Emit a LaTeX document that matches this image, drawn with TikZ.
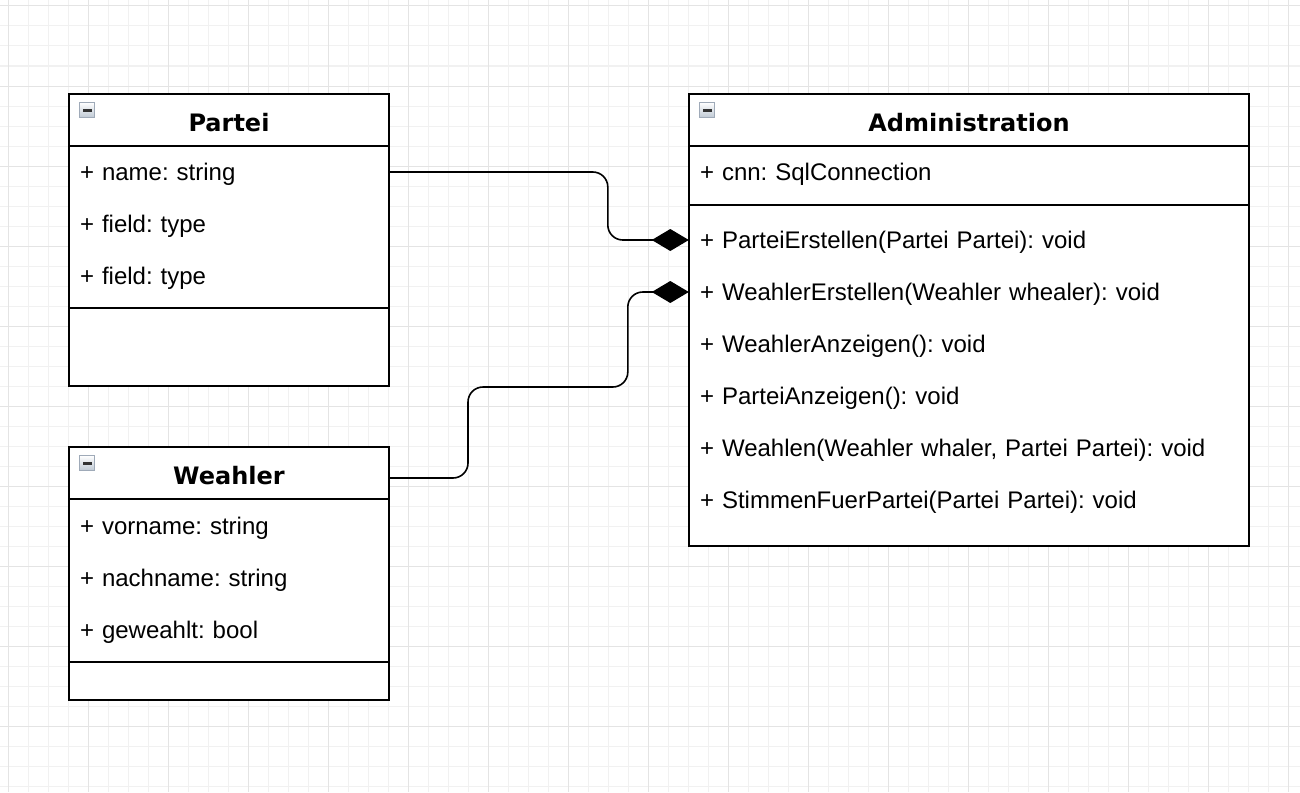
\documentclass[tikz,border=0pt]{standalone}
\usepackage{fontspec}
\setmainfont{Liberation Sans}
\newfontfamily\hdrfont{DejaVu Sans}
\usepackage{tikz}
\usetikzlibrary{arrows.meta,positioning}
\frenchspacing
\definecolor{gridminor}{HTML}{F1F1F1}
\definecolor{gridmajor}{HTML}{E4E4E4}
\definecolor{btnedge}{HTML}{9FAAB8}
\definecolor{btnfill}{HTML}{BFC9D4}
\tikzset{
  minorline/.style={draw=gridminor,line width=1pt},
  majorline/.style={draw=gridmajor,line width=1pt},
  classhead/.style={rectangle,draw=black,line width=1.6pt,outer sep=0pt,fill=white,
                    minimum height=52pt,text height=23pt,text depth=0pt,
                    font=\hdrfont\bfseries\fontsize{24}{28}\selectfont},
  compart/.style={rectangle,draw=black,line width=1.6pt,outer sep=0pt,fill=white,inner sep=0pt},
  member/.style={rectangle,inner xsep=11pt,inner ysep=0pt,align=left,
                 text height=19pt,text depth=3pt,font=\fontsize{24}{28}\selectfont},
  minbtn/.style={rectangle,minimum size=15pt,inner sep=0pt,draw=btnedge,line width=0.9pt,
                 top color=white,bottom color=btnfill,
                 path picture={\fill[black!80] ([xshift=3pt,yshift=-1.5pt]path picture bounding box.west)
                   rectangle ([xshift=-3pt,yshift=1.5pt]path picture bounding box.east);}},
  comp/.style={-{Diamond[length=37pt,width=22pt]},draw=black,line width=1.6pt,rounded corners=15pt},
}
\begin{document}
\begin{tikzpicture}[x=1pt,y=1pt]
  \useasboundingbox (0,0) rectangle (1300,-792);
  % background grid
  \fill[white] (0,0) rectangle (1300,-792);
  \foreach \x in {8,28,...,1288} \draw[minorline] (\x,0) -- (\x,-792);
  \foreach \y in {6,26,...,786} \draw[minorline] (0,-\y) -- (1300,-\y);
  \foreach \x in {8,88,...,1288} \draw[majorline] (\x,0) -- (\x,-792);
  \foreach \y in {6,86,...,726} \draw[majorline] (0,-\y) -- (1300,-\y);

  % Partei
  \node[classhead,minimum width=320pt] (partei) at (229,-120) {Partei};
  \node[compart,minimum width=320pt,minimum height=162pt,below=0pt of partei] (parteiattr) {};
  \node[compart,minimum width=320pt,minimum height=78pt,below=0pt of parteiattr] (parteiops) {};
  \node[minbtn] (parteibtn) at ([xshift=18pt,yshift=-16pt]partei.north west) {};
  \node[member,text width=298pt] (p1) at (229,-172) {+ name: string};
  \node[member,text width=298pt] (p2) at (229,-224) {+ field: type};
  \node[member,text width=298pt] (p3) at (229,-276) {+ field: type};

  % Weahler
  \node[classhead,minimum width=320pt] (weahler) at (229,-473) {Weahler};
  \node[compart,minimum width=320pt,minimum height=163pt,below=0pt of weahler] (weahlerattr) {};
  \node[compart,minimum width=320pt,minimum height=38pt,below=0pt of weahlerattr] (weahlerops) {};
  \node[minbtn] (weahlerbtn) at ([xshift=18pt,yshift=-16pt]weahler.north west) {};
  \node[member,text width=298pt] (w1) at (229,-526) {+ vorname: string};
  \node[member,text width=298pt] (w2) at (229,-578) {+ nachname: string};
  \node[member,text width=298pt] (w3) at (229,-630) {+ geweahlt: bool};

  % Administration
  \node[classhead,minimum width=560pt] (admin) at (969,-120) {Administration};
  \node[compart,minimum width=560pt,minimum height=59pt,below=0pt of admin] (adminattr) {};
  \node[compart,minimum width=560pt,minimum height=341pt,below=0pt of adminattr] (adminops) {};
  \node[minbtn] (adminbtn) at ([xshift=18pt,yshift=-16pt]admin.north west) {};
  \node[member,text width=538pt] (a1) at (969,-172) {+ cnn: SqlConnection};
  \foreach \txt [count=\i] in {{+ ParteiErstellen(Partei Partei): void},
                               {+ WeahlerErstellen(Weahler whealer): void},
                               {+ WeahlerAnzeigen(): void},
                               {+ ParteiAnzeigen(): void},
                               {+ Weahlen(Weahler whaler, Partei Partei): void},
                               {+ StimmenFuerPartei(Partei Partei): void}} {
    \node[member,text width=538pt] (m\i) at (969,{-188-52*\i}) {\txt};
  }

  % compositions
  \coordinate (wbend) at (468,-387);
  \draw[comp] (p1.east) -| ([xshift=-81pt]m1.west) -- (m1.west);
  \draw[comp] ([yshift=-5pt]weahler.east) -| (wbend) -| ([xshift=-61pt]m2.west) -- (m2.west);
\end{tikzpicture}
\end{document}
